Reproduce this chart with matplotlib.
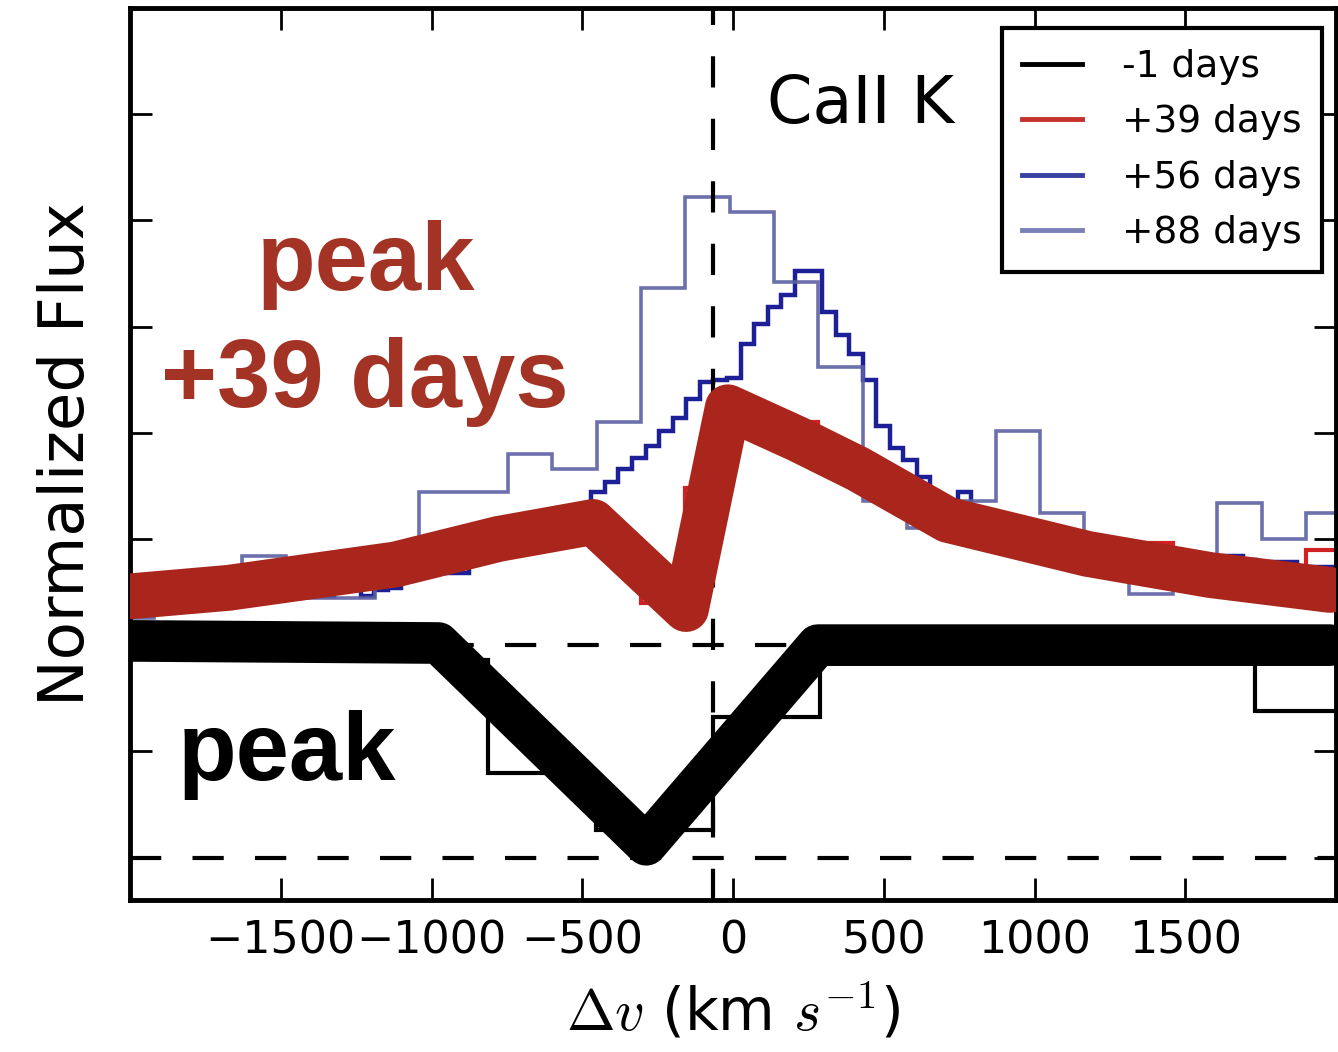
import numpy as np
import matplotlib
matplotlib.use("Agg")
import matplotlib.pyplot as plt
from matplotlib.lines import Line2D

# ---- data ---------------------------------------------------------------
# coarse step spectrum of the -1 days epoch
black_edges = [-1906, -1544, -1182, -811, -454, -66, 288, 649, 1010, 1371, 1732, 2093]
black_flux = [1.00, 1.00, 0.93, 0.40, 0.13, 0.66, 1.00, 1.00, 1.00, 1.00, 0.69]

# +39 and +88 days share the same binning (147 km/s)
mid_edges = [-2069, -1922, -1775, -1628, -1481, -1334, -1187, -1040, -893, -746,
             -599, -452, -305, -158, -11, 136, 283, 430, 577, 724, 871, 1018,
             1165, 1312, 1459, 1606, 1753, 1900, 2047]
red39_flux = [1.21, 1.26, 1.31, 1.35, 1.38, 1.36, 1.38, 1.42, 1.47, 1.52, 1.56, 1.50,
              1.20, 1.74, 2.10, 2.05, 1.85, 1.72, 1.60, 1.52, 1.45, 1.40, 1.36, 1.48,
              1.33, 1.30, 1.26, 1.45]
blue88_flux = [1.13, 1.21, 1.28, 1.42, 1.22, 1.22, 1.38, 1.72, 1.72, 1.90, 1.83, 2.05,
               2.68, 3.11, 3.04, 2.71, 2.31, 1.68, 1.55, 1.68, 2.01, 1.62, 1.47, 1.24,
               1.40, 1.67, 1.50, 1.62]

# +56 days, fine binning (45 km/s)
blue56_edges = np.arange(-2000, 2006, 45)
blue56_flux = [1.26, 1.28, 1.27, 1.25, 1.28, 1.27, 1.25, 1.28, 1.26, 1.28, 1.26, 1.27,
               1.23, 1.23, 1.23, 1.27, 1.27, 1.23, 1.26, 1.27, 1.31, 1.37, 1.37, 1.34,
               1.34, 1.42, 1.43, 1.44, 1.45, 1.46, 1.46, 1.51, 1.57, 1.66, 1.72, 1.77,
               1.83, 1.88, 1.94, 2.01, 2.07, 2.16, 2.24, 2.25, 2.26, 2.42, 2.51, 2.59,
               2.65, 2.76, 2.76, 2.57, 2.46, 2.37, 2.25, 2.03, 1.93, 1.87, 1.79, 1.69,
               1.68, 1.72, 1.58, 1.57, 1.56, 1.54, 1.54, 1.53, 1.52, 1.51, 1.50, 1.49,
               1.47, 1.46, 1.46, 1.45, 1.44, 1.43, 1.42, 1.42, 1.42, 1.42, 1.40, 1.39,
               1.39, 1.39, 1.37, 1.37, 1.37]

# hand-drawn overlay traces (peak and peak+39 days)
peak_v = [-1997, -977, -288, 281, 1980]
peak_flux = [1.02, 1.01, 0.06, 1.00, 1.00]
late_v = [-1997, -1672, -1119, -778, -464, -156, -17, 215, 414, 712, 1175, 1583, 1980]
late_flux = [1.23, 1.27, 1.38, 1.50, 1.58, 1.17, 2.12, 1.97, 1.83, 1.59, 1.43, 1.33, 1.26]

epoch_labels = ["-1 days", "+39 days", "+56 days", "+88 days"]
xtick_values = [-1500, -1000, -500, 0, 500, 1000, 1500]
ytick_values = [0, 0.5, 1.0, 1.5, 2.0, 2.5, 3.0, 3.5]
line_center = -65

RED_HIST = "#d02222"
NAVY = "#1c1f96"
SLATE = "#5c60a2"
SCRIBBLE_RED = "#aa261c"
TEXT_RED = "#a23325"

plt.rcParams["mathtext.fontset"] = "cm"


def main():
    fig = plt.figure(figsize=(13.38, 10.52), dpi=100)
    ax = fig.add_axes([130 / 1338, 152 / 1052, 1206 / 1338, 892 / 1052])

    # step spectra
    ax.stairs(black_flux, black_edges, baseline=None, color="black", lw=3, zorder=2)
    ax.stairs(red39_flux, mid_edges, baseline=None, color=RED_HIST, lw=3, zorder=2)
    ax.stairs(blue56_flux, blue56_edges, baseline=None, color=NAVY, lw=3.2, zorder=2)
    ax.stairs(blue88_flux, mid_edges, baseline=None, color=SLATE, lw=2.6,
              alpha=0.9, zorder=2)

    # reference lines
    dash = dict(color="black", lw=3, dashes=(7.5, 7.5), zorder=3)
    ax.axhline(0, **dash)
    ax.axhline(1, **dash)
    ax.axvline(line_center, **dash)

    # thick marker-pen traces on top
    ax.plot(late_v, late_flux, color=SCRIBBLE_RED, lw=33, solid_joinstyle="round",
            solid_capstyle="round", zorder=4)
    ax.plot(peak_v, peak_flux, color="black", lw=30, solid_joinstyle="round",
            solid_capstyle="round", zorder=4)

    ax.set_xlim(-2000, 2000)
    ax.set_ylim(-0.2, 4.0)
    ax.set_xticks(xtick_values)
    ax.set_yticks(ytick_values)
    ax.set_yticklabels([])
    ax.tick_params(direction="in", length=16, width=2, top=True, right=True,
                   labelsize=32, pad=14)
    for spine in ax.spines.values():
        spine.set_linewidth(3.5)

    ax.set_xlabel(r"$\Delta v$ (km $s^{-1}$)", fontsize=42, labelpad=14)
    ax.set_ylabel("Normalized Flux", fontsize=45, labelpad=10)

    fig.text(767 / 1338, 1 - 123 / 1052, "CaII K", fontsize=47, va="baseline")

    bold = dict(fontsize=69, fontweight="bold", family="Liberation Sans",
                ha="center", va="baseline", zorder=5)
    fig.text(366 / 1338, 1 - 290 / 1052, "peak", color=TEXT_RED, **bold)
    fig.text(365 / 1338, 1 - 407 / 1052, "+39 days", color=TEXT_RED, **bold)
    fig.text(287 / 1338, 1 - 780 / 1052, "peak", color="black", **bold)

    handles = [Line2D([], [], color=c, lw=3.5)
               for c in ["black", "#c4302b", "#3a40a0", "#7b80b6"]]
    leg = ax.legend(handles, epoch_labels, loc="upper right", fontsize=27,
                    bbox_to_anchor=(1322 / 1338, 1 - 28 / 1052),
                    bbox_transform=fig.transFigure, borderaxespad=0,
                    borderpad=0.55, handlelength=1.6, handletextpad=1.05,
                    labelspacing=0.52, fancybox=False, framealpha=1)
    leg.get_frame().set_edgecolor("black")
    leg.get_frame().set_linewidth(3)

    fig.savefig("out.png", dpi=100)
    plt.close(fig)


if __name__ == "__main__":
    main()
